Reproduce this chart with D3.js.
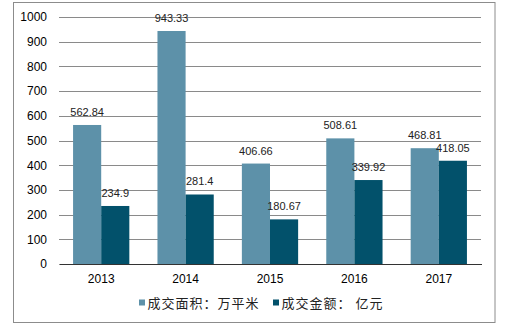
<!DOCTYPE html>
<html><head><meta charset="utf-8">
<script src="https://cdn.jsdelivr.net/npm/d3@7"></script>
<style>body{margin:0;background:#fff}svg{display:block}</style>
</head><body>
<script>
const categories = ["2013","2014","2015","2016","2017"];
const seriesNames = ["成交面积：万平米","成交金额： 亿元"];
const area = [562.84,943.33,406.66,508.61,468.81];
const amount = [234.9,281.4,180.67,339.92,418.05];
const areaLabels = ["562.84","943.33","406.66","508.61","468.81"];
const amountLabels = ["234.9","281.4","180.67","339.92","418.05"];
const yTicks = [0,100,200,300,400,500,600,700,800,900,1000];
const colors = ["#5d91a9","#02516b"];

const W=515,H=335;
const svg=d3.select("body").append("svg").attr("width",W).attr("height",H);
svg.append("rect").attr("x",13.5).attr("y",2.5).attr("width",481.5).attr("height",320).attr("fill","#fff").attr("stroke","#8c8c8c");

const m={l:59,r:481,t:17,b:264};
const x=d3.scaleBand().domain(categories).range([m.l,m.r]).paddingInner(1/3).paddingOuter(1/6);
const x1=d3.scaleBand().domain([0,1]).range([0,x.bandwidth()]);
const y=d3.scaleLinear().domain([0,1000]).range([m.b,m.t]);

const yAxis=svg.append("g").attr("transform",`translate(${m.l},0)`)
  .call(d3.axisLeft(y).tickValues(yTicks).tickFormat(d3.format("d")).tickSize(-(m.r-m.l)).tickPadding(12));
yAxis.select(".domain").remove();
yAxis.selectAll(".tick line").attr("stroke","#8a8a8a").attr("shape-rendering","crispEdges");
yAxis.selectAll(".tick text").attr("font-family","Arial, 'Liberation Sans', sans-serif").attr("font-size",12).attr("fill","#000");

const data=categories.map((c,i)=>({c,vals:[area[i],amount[i]],labs:[areaLabels[i],amountLabels[i]]}));
const g=svg.append("g");
data.forEach(d=>{
  d.vals.forEach((v,k)=>{
    g.append("rect").attr("x",x(d.c)+x1(k)).attr("width",x1.bandwidth())
      .attr("y",y(v)).attr("height",y(0)-y(v)).attr("fill",colors[k]);
  });
});
data.forEach(d=>{
  d.vals.forEach((v,k)=>{
    g.append("text").attr("x",x(d.c)+x1(k)+x1.bandwidth()/2).attr("y",y(v)-9)
      .attr("text-anchor","middle").attr("font-family","Arial, 'Liberation Sans', sans-serif")
      .attr("font-size",11).attr("fill","#222").text(d.labs[k]);
  });
});

const xAxis=svg.append("g").attr("transform",`translate(0,${m.b})`)
  .call(d3.axisBottom(x).tickSize(0).tickPadding(10));
xAxis.select(".domain").attr("stroke","#333").attr("shape-rendering","crispEdges");
xAxis.selectAll(".tick text").attr("font-family","Arial, 'Liberation Sans', sans-serif").attr("font-size",12).attr("fill","#000");

const legX=[139,273];
seriesNames.forEach((n,k)=>{
  svg.append("rect").attr("x",legX[k]).attr("y",299.5).attr("width",6).attr("height",6).attr("fill",colors[k]);
  svg.append("text").attr("x",legX[k]+8.5).attr("y",307.5).attr("letter-spacing",1)
    .attr("font-family","'Noto Sans CJK SC', sans-serif").attr("font-size",13).attr("fill","#222").text(n);
});
</script>
</body></html>
